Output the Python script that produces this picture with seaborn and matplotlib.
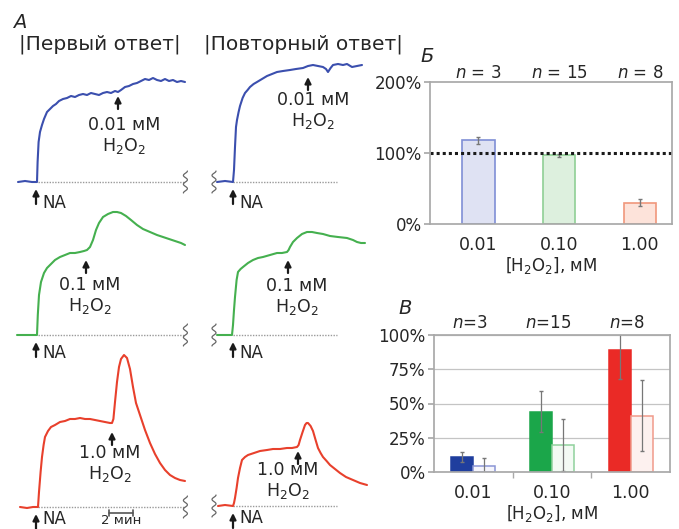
import numpy as np
import pandas as pd
import matplotlib
matplotlib.use("Agg")
import matplotlib.pyplot as plt
import seaborn as sns

# ---- panel A: Ca traces (time in s, response in a.u. above baseline) ----
t_first_001 = [15, 50, 85, 110, 113, 118, 125, 135, 145, 160, 175, 190, 205, 220, 240, 260, 280, 300, 320, 340,
               360, 380, 400, 420, 440, 460, 480, 500, 515, 530, 550, 570, 590, 610, 630, 650, 670, 690, 710, 730,
               750, 770, 790, 810, 830, 850]
f_first_001 = [0, 1, 0, 0, 20, 40, 50, 57, 63, 70, 73, 76, 78, 81, 83, 84, 86, 85, 87, 88,
               87, 89, 88, 87, 89, 90, 89, 91, 90, 92, 95, 96, 98, 99, 101, 103, 102, 104, 102, 101,
               103, 101, 102, 100, 101, 100]

t_first_01 = [10, 60, 110, 114, 120, 130, 145, 160, 180, 200, 225, 250, 275, 300, 325, 345, 360, 375, 390, 405,
              420, 440, 465, 490, 510, 530, 555, 580, 610, 640, 675, 710, 740, 770, 800, 830, 850]
f_first_01 = [0, 0, 0, 20, 40, 53, 62, 67, 71, 75, 78, 80, 82, 82, 83, 84, 85, 88, 95, 105,
              112, 118, 121, 123, 123, 122, 119, 115, 110, 106, 103, 100, 98, 96, 94, 92, 90]

t_first_1 = [25, 60, 90, 115, 120, 128, 135, 143, 150, 165, 180, 200, 225, 250, 275, 300, 325, 350, 375, 400,
             425, 450, 475, 485, 492, 500, 510, 520, 530, 545, 560, 575, 590, 605, 625, 650, 675, 700, 725, 750,
             775, 800, 825, 850]
f_first_1 = [0, -1, 0, 0, 15, 35, 50, 62, 70, 76, 80, 82, 85, 86, 88, 88, 89, 88, 88, 87,
             86, 85, 84, 84, 88, 105, 125, 140, 148, 152, 149, 138, 120, 104, 92, 77, 64, 53, 44, 37,
             32, 29, 27, 26]

t_rep_001 = [60, 100, 140, 145, 150, 155, 160, 168, 175, 188, 200, 213, 225, 243, 260, 285, 310, 335, 360, 390,
             425, 455, 490, 515, 540, 565, 590, 605, 615, 628, 640, 665, 690, 710, 735, 760, 785]
f_rep_001 = [0, 1, 0, 12, 35, 55, 62, 70, 76, 84, 89, 92, 95, 98, 100, 103, 106, 108, 110, 111,
             112, 113, 114, 116, 117, 116, 115, 113, 110, 114, 117, 118, 117, 118, 115, 116, 117]

t_rep_01 = [60, 100, 135, 140, 145, 150, 158, 165, 178, 190, 215, 240, 265, 290, 325, 360, 385, 410, 418, 425,
            440, 460, 485, 510, 535, 560, 590, 625, 665, 710, 740, 760, 780, 800]
f_rep_01 = [0, 0, 0, 10, 25, 38, 55, 63, 66, 68, 72, 75, 77, 78, 80, 82, 82, 83, 85, 88,
            93, 97, 101, 103, 103, 102, 101, 99, 98, 97, 95, 93, 92, 92]

t_rep_1 = [65, 100, 140, 145, 150, 158, 165, 175, 185, 200, 215, 245, 275, 310, 340, 375, 410, 435, 460, 468,
           475, 488, 500, 508, 515, 528, 540, 553, 565, 578, 590, 608, 625, 650, 675, 705, 740, 775, 810]
f_rep_1 = [0, 1, 0, 3, 8, 18, 28, 38, 46, 49, 51, 53, 55, 56, 57, 57, 58, 58, 59, 61,
           66, 74, 81, 83, 83, 80, 75, 66, 58, 53, 49, 45, 41, 37, 33, 29, 26, 23, 21]

na_time = [105, 140]              # first / repeat response
h2o2_time_first = [515, 355, 485]
h2o2_time_rep = [515, 415, 465]
h2o2_labels = ["0.01 мМ", "0.1 мМ", "1.0 мМ"]

# ---- panels Б and В ----
conc_labels = ["0.01", "0.10", "1.00"]
n_labels = [3, 15, 8]
ratio_mean = [118, 97, 30]
ratio_err = [5, 2, 5]
resp_first = [11, 44, 89]
resp_first_err = [3.5, 15, 21]
resp_rep = [4.5, 20, 41]
resp_rep_err = [6, 19, 26]

trace_colors = ["#3b4fae", "#45b04f", "#e8402c"]

sns.set_theme(style="white")
plt.rcParams['font.family'] = ['DejaVu Sans']
plt.rcParams['mathtext.default'] = 'regular'

W, H = 679, 529
fig = plt.figure(figsize=(W / 100, H / 100), dpi=100)
fig.patch.set_facecolor("white")


def box(x0, y0, x1, y1):
    return [x0 / W, 1 - y1 / H, (x1 - x0) / W, (y1 - y0) / H]


def ftext(x, y, s, **kw):
    fig.text(x / W, 1 - y / H, s, **kw)


def up_arrow(ax, t, tip, tail):
    ax.annotate("", xy=(t, tip), xytext=(t, tail), annotation_clip=False,
                arrowprops=dict(arrowstyle="-|>", color="k", lw=1.6, mutation_scale=9,
                                shrinkA=0, shrinkB=0))


def squiggle(ax, t):
    yy = np.linspace(-11, 11, 60)
    ax.plot(t + 10 * np.sin(yy / 11 * 2.5 * np.pi), yy, color="#666", lw=0.9, clip_on=False)


traces = [
    [(t_first_001, f_first_001), (t_first_01, f_first_01), (t_first_1, f_first_1)],
    [(t_rep_001, f_rep_001), (t_rep_01, f_rep_01), (t_rep_1, f_rep_1)],
]
col_x = [15, 205]
baselines = [[182, 335, 507], [182, 335, 506]]
base_span = [(115, 850), (140, 660)]
h2o2_times = [h2o2_time_first, h2o2_time_rep]
h2o2_tip = [[86, 75, 75], [105, 75, 55]]
label_pos = [[(124, 125), (90, 285), (110, 453)], [(313, 100), (297, 286), (288, 470)]]
na_text_h = [-21, -18, -12]

for c in range(2):
    for r in range(3):
        yb = baselines[c][r]
        ax = fig.add_axes(box(col_x[c], yb - 160, col_x[c] + 180, yb + 20))
        ax.set_xlim(0, 900)
        ax.set_ylim(-20, 160)
        ax.axis("off")
        t, f = traces[c][r]
        ax.plot(base_span[c], [0, 0], color="#9a9a9a", ls=(0, (1, 1)), lw=1)
        sns.lineplot(x=t, y=f, ax=ax, color=trace_colors[r], lw=1.5, estimator=None, sort=False)
        squiggle(ax, 852 if c == 0 else 45)
        up_arrow(ax, na_time[c], -7, -22)
        ax.text(na_time[c] + 30, na_text_h[r], "NA", fontsize=12, va="center", ha="left", clip_on=False)
        tip = h2o2_tip[c][r]
        up_arrow(ax, h2o2_times[c][r], tip, tip - 13)
        lx, ly = label_pos[c][r]
        ftext(lx, ly, h2o2_labels[r], fontsize=12.5, ha="center", va="center")
        ftext(lx, ly + 21, "H$_2$O$_2$", fontsize=12.5, ha="center", va="center")
        if c == 0 and r == 2:
            ax.plot([470, 590], [-6, -6], color="#555", lw=1.2, clip_on=False)
            ax.plot([470, 470], [-9, -3], color="#555", lw=1.2, clip_on=False)
            ax.plot([590, 590], [-9, -3], color="#555", lw=1.2, clip_on=False)
            ax.text(530, -13.5, "2 мин", fontsize=9.5, ha="center", va="center", clip_on=False)

ftext(20, 22, "A", fontsize=14, style="italic", ha="center", va="center")
ftext(100, 44, "|Первый ответ|", fontsize=14.5, ha="center", va="center")
ftext(303, 44, "|Повторный ответ|", fontsize=14.5, ha="center", va="center")

spine_c = "#a9a9a9"

# ---- panel Б ----
axb = fig.add_axes(box(430, 82, 672, 224))
dfb = pd.DataFrame({"conc": conc_labels, "ratio": ratio_mean})
sns.barplot(data=dfb, x="conc", y="ratio", ax=axb, width=0.4, color="#dddddd")
fills_b = ["#dfe2f3", "#ddf0de", "#fde3da"]
edges_b = ["#7f8fd6", "#8fcf95", "#f0977c"]
for p, fc, ec in zip(sorted(axb.patches, key=lambda p: p.get_x()), fills_b, edges_b):
    p.set_facecolor(fc)
    p.set_edgecolor(ec)
    p.set_linewidth(1.2)
axb.errorbar(range(3), ratio_mean, yerr=ratio_err, fmt="none", ecolor="#777", elinewidth=1, capsize=1.5)
axb.axhline(100, color="k", ls=(0, (1, 1)), lw=2.2)
axb.set_ylim(0, 200)
axb.set_xlim(-0.6, 2.4)
axb.set_yticks([0, 100, 200])
axb.set_yticklabels(["0%", "100%", "200%"])
axb.set_xlabel("[H$_2$O$_2$], мМ", fontsize=12, labelpad=0)
axb.set_ylabel("")
for s in axb.spines.values():
    s.set_color(spine_c)
axb.tick_params(axis="y", left=True, length=4, color=spine_c, labelsize=12, pad=2)
axb.tick_params(axis="x", bottom=False, labelsize=12.5, pad=3)
for i, n in enumerate(n_labels):
    axb.text(i, 212, f"$\\mathit{{n}}$ = {n}", fontsize=12, ha="center", va="center")
ftext(427, 56, "Б", fontsize=14, style="italic", ha="center", va="center")

# ---- panel В ----
axv = fig.add_axes(box(434, 335, 670, 472))
dfv = pd.DataFrame({
    "conc": conc_labels * 2,
    "resp": ["first"] * 3 + ["repeat"] * 3,
    "val": resp_first + resp_rep,
})
sns.barplot(data=dfv, x="conc", y="val", hue="resp", ax=axv, width=0.56, gap=0, legend=False)
fills_v = ["#1f3e9e", "#f5f5fc", "#1ba64a", "#f3faf4", "#ea2a26", "#fdf1ef"]
edges_v = ["#1f3e9e", "#8a95d5", "#1ba64a", "#8fd19c", "#ea2a26", "#f09a8a"]
errs_v = [resp_first_err[0], resp_rep_err[0], resp_first_err[1], resp_rep_err[1],
          resp_first_err[2], resp_rep_err[2]]
bars_v = sorted(axv.patches, key=lambda p: p.get_x())
for p, fc, ec, e in zip(bars_v, fills_v, edges_v, errs_v):
    p.set_facecolor(fc)
    p.set_edgecolor(ec)
    p.set_linewidth(1.1)
    axv.errorbar(p.get_x() + p.get_width() / 2, p.get_height(), yerr=e, fmt="none",
                 ecolor="#777", elinewidth=0.9, capsize=1.5)
axv.set_ylim(0, 100)
axv.set_xlim(-0.5, 2.5)
axv.set_yticks([0, 25, 50, 75, 100])
axv.set_yticklabels(["0%", "25%", "50%", "75%", "100%"])
axv.yaxis.grid(True, color="#c4c4c4", lw=0.9)
axv.set_axisbelow(True)
axv.set_xticks([0.5, 1.5], minor=True)
axv.set_xlabel("[H$_2$O$_2$], мМ", fontsize=12, labelpad=0)
axv.set_ylabel("")
for s in axv.spines.values():
    s.set_color(spine_c)
axv.tick_params(axis="y", left=True, length=4, color=spine_c, labelsize=12, pad=2)
axv.tick_params(axis="x", which="major", bottom=False, labelsize=12.5, pad=3)
axv.tick_params(axis="x", which="minor", bottom=True, length=4, color=spine_c)
for i, n in enumerate(n_labels):
    axv.text(i - 0.05, 109, f"$\\mathit{{n}}$={n}", fontsize=12, ha="center", va="center")
ftext(405, 309, "В", fontsize=14, style="italic", ha="center", va="center")

fig.savefig("out.png", dpi=100, facecolor="white")
